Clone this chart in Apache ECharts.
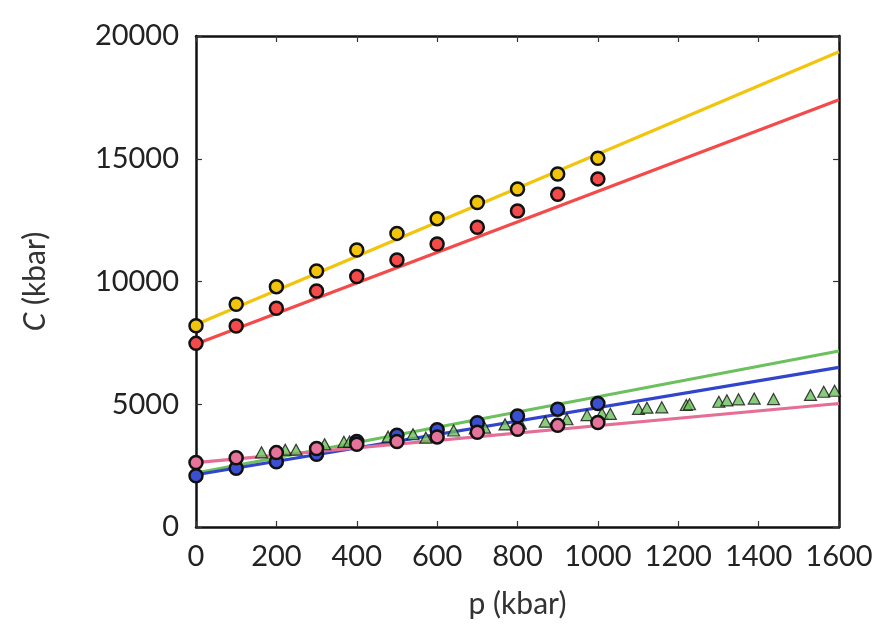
<!DOCTYPE html>
<html>
<head>
<meta charset="utf-8">
<script src="https://cdn.jsdelivr.net/npm/echarts@6/dist/echarts.min.js"></script>
<style>
  html, body { margin: 0; padding: 0; background: #fff; }
  #main { width: 889px; height: 632px; }
</style>
</head>
<body>
<div id="main"></div>
<script>
// pressure grid for circle data (kbar)
var pressures = [0, 100, 200, 300, 400, 500, 600, 700, 800, 900, 1000];

// circle series, C in kbar
var yellowPts = [8200, 9070, 9790, 10430, 11280, 11960, 12560, 13220, 13770, 14380, 15020];
var redPts    = [7480, 8190, 8910, 9610, 10200, 10880, 11530, 12210, 12870, 13550, 14180];
var bluePts   = [2090, 2390, 2660, 2960, 3480, 3740, 3960, 4250, 4520, 4800, 5030];
var pinkPts   = [2630, 2820, 3030, 3200, 3370, 3480, 3670, 3860, 3980, 4140, 4260];

// triangle data [p, C]
var triPts = [
  [163, 3040], [222, 3150], [249, 3150], [320, 3370], [368, 3470], [382, 3480],
  [478, 3680], [540, 3780], [572, 3640], [641, 3930], [695, 4020], [718, 4050],
  [769, 4180], [807, 4220], [869, 4290], [923, 4390], [973, 4560], [1010, 4630],
  [1031, 4610], [1101, 4810], [1122, 4860], [1159, 4875], [1220, 4970], [1228, 5000],
  [1301, 5100], [1321, 5160], [1350, 5200], [1389, 5230], [1437, 5210], [1529, 5380],
  [1562, 5510], [1589, 5550]
];

// fitted lines, endpoints [p, C]
var yellowFit = [[0, 8250], [1600, 19360]];
var redFit    = [[0, 7450], [1600, 17400]];
var greenFit  = [[0, 2200], [1600, 7170]];
var blueFit   = [[0, 2130], [1600, 6500]];
var pinkFit   = [[0, 2620], [1600, 5030]];

var xTicks = [0, 1600, 200];     // min, max, interval
var yTicks = [0, 20000, 5000];

function pair(vals) {
  return vals.map(function (v, i) { return [pressures[i], v]; });
}

var font = 'Lato, "Open Sans", sans-serif';

function lineSeries(data, color) {
  return {
    type: 'line', data: data, symbol: 'none', z: 1,
    lineStyle: { color: color, width: 3.2 }, silent: true
  };
}
function dotSeries(data, color, z) {
  return {
    type: 'scatter', data: data, symbol: 'circle', symbolSize: 13, z: z,
    itemStyle: { color: color, borderColor: '#111', borderWidth: 2.5, opacity: 1 }
  };
}

var axisLine = { show: true, onZero: false, lineStyle: { color: '#111', width: 2.5 } };
var tick = { show: true, inside: true, length: 6, lineStyle: { color: '#333', width: 1.2 } };
var plain = function (v) { return String(v); };

var chart = echarts.init(document.getElementById('main'));
chart.setOption({
  animation: false,
  grid: { left: 196, right: 50, top: 36, bottom: 105 },
  xAxis: [{
    type: 'value', min: xTicks[0], max: xTicks[1], interval: xTicks[2],
    position: 'bottom',
    name: 'p (kbar)', nameLocation: 'middle', nameGap: 62,
    nameTextStyle: { fontFamily: font, fontSize: 30, color: '#333' },
    axisLine: axisLine, axisTick: tick, splitLine: { show: false },
    axisLabel: { fontFamily: font, fontSize: 29, color: '#222', margin: 15, formatter: plain }
  }, {
    type: 'value', min: xTicks[0], max: xTicks[1], interval: xTicks[2],
    position: 'top',
    axisLine: axisLine, axisTick: tick, splitLine: { show: false },
    axisLabel: { show: false }
  }],
  yAxis: [{
    type: 'value', min: yTicks[0], max: yTicks[1], interval: yTicks[2],
    position: 'left',
    name: '{i|C} (kbar)', nameLocation: 'middle', nameGap: 146,
    nameTextStyle: {
      fontFamily: font, fontSize: 30, color: '#333',
      rich: { i: { fontFamily: font, fontSize: 30, fontStyle: 'italic', color: '#333' } }
    },
    axisLine: axisLine, axisTick: tick, splitLine: { show: false },
    axisLabel: { fontFamily: font, fontSize: 29, color: '#222', margin: 17, formatter: plain }
  }, {
    type: 'value', min: yTicks[0], max: yTicks[1], interval: yTicks[2],
    position: 'right',
    axisLine: axisLine, axisTick: tick, splitLine: { show: false },
    axisLabel: { show: false }
  }],
  series: [
    lineSeries(yellowFit, '#F2C40C'),
    lineSeries(redFit, '#F44A4A'),
    lineSeries(greenFit, '#6CC05E'),
    lineSeries(blueFit, '#3145CC'),
    lineSeries(pinkFit, '#E46E94'),
    {
      type: 'scatter', data: triPts, symbol: 'triangle', symbolSize: [12, 11], z: 2,
      itemStyle: { color: '#6CBF5C', borderColor: '#111', borderWidth: 1.2 }
    },
    dotSeries(pair(yellowPts), '#F2C40C', 3),
    dotSeries(pair(redPts), '#F44A4A', 3),
    dotSeries(pair(bluePts), '#3B50D0', 3),
    dotSeries(pair(pinkPts), '#E6739A', 4)
  ]
});
</script>
</body>
</html>
